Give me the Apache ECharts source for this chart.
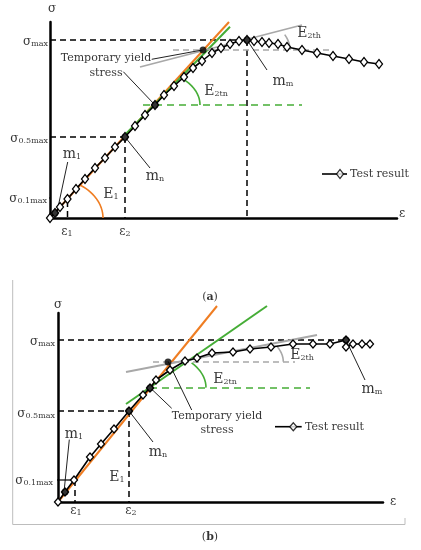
<!DOCTYPE html>
<html><head><meta charset="utf-8">
<script src="https://cdn.jsdelivr.net/npm/echarts@6/dist/echarts.min.js"></script>
<style>html,body{margin:0;padding:0;background:#fff}#c{width:421px;height:550px}</style>
</head><body><div id="c"></div>
<script>
// ---------- Panel (a): test result curve ----------
const strainA = [0,5,10,17.5,26,35,45,55,65,75,85,95,105,114,124,134,143,152,162,171,180,189,197,204,212,219,228,237,252,267,283,299,314,329];
const stressA = [0,5,11,19,29,39,50,60,71,81,92,103,113,123,132,141,150,157,165,170,174,177,178,177,176,175,174,171,168,165,162,159,156,154];
// key points (m1, mn, temporary yield, tangent intersection, mm)
const keyStrainA = [5,75,105,153,197];
const keyStressA = [5,81,113,168,178];
// reference lines (start/end)
const orangeStrainA = [0,179],  orangeStressA = [0,196];
const greenStrainA  = [71.7,180], greenStressA = [79.7,191.3];
const grayStrainA   = [90,252], grayStressA   = [151,193];
const sigmaMaxA = 178, sigmaHalfA = 81, sigmaTenthA = 20;
const eps1A = 17.5, eps2A = 75, epsMaxA = 197;
const tyLevelA = 113, thLevelA = 168;

// ---------- Panel (b): test result curve ----------
const strainB = [0,7,16,32,43,56,71,85,92,98,112,127,139,154,175,192,213,235,255,272,288,288,295,304,312];
const stressB = [0,10,22,45,58,73,91,107,114,122,132,141,144,149,150,153,155,158,158,158,162,155,158,158,158];
const keyStrainB = [7,71,92,110,288];
const keyStressB = [10,91,114,140,162];
const orangeStrainB = [0,159], orangeStressB = [0,196];
const greenStrainB  = [68,209], greenStressB  = [98,196];
const grayStrainB   = [68,259], grayStressB   = [130,167];
const sigmaMaxB = 162, sigmaHalfB = 91, sigmaTenthB = 22;
const eps1B = 17, eps2B = 71;
const tyLevelB = 114, thLevelB = 140;

const FONT = 'DejaVu Serif';
const ORANGE = '#ef7d22', GREEN = '#45ad36', GRAY = '#a8a8a8';

function pts(xs, ys){ return xs.map((x,i)=>[x, ys[i]]); }
function arc(cx, cy, rx, ry, t1deg){
  const out=[]; const n=30;
  for(let i=0;i<=n;i++){ const t=t1deg*Math.PI/180*i/n; out.push([cx+rx*Math.cos(t), cy+ry*Math.sin(t)]); }
  return out;
}
const series = [];
function line(g, data, color, width, type, z){
  series.push({type:'line', xAxisIndex:g, yAxisIndex:g, data, symbol:'none', silent:true, clip:false,
    animation:false, z:z||2, lineStyle:{color, width, type:type||'solid'}});
}
function dashed(g, data){ line(g, data, '#000', 1.5, [6,4], 1); }
const RICH = {
  b:{fontFamily:FONT, fontSize:14, color:'#000', verticalAlign:'bottom', lineHeight:16},
  g:{fontFamily:FONT, fontSize:12, color:'#000', verticalAlign:'bottom', lineHeight:15},
  s:{fontFamily:FONT, fontSize:8, color:'#000', verticalAlign:'bottom', lineHeight:14},
  t:{fontFamily:FONT, fontSize:11, color:'#000'},
  bold:{fontFamily:FONT, fontSize:11, color:'#000', fontWeight:'bold'}
};
function labels(g, items){
  series.push({type:'scatter', xAxisIndex:g, yAxisIndex:g, symbolSize:0, silent:true, clip:false, animation:false, z:10,
    data: items.map(it=>({value:[it[0],it[1]], label:{show:true, formatter:it[2], position:it[3]||'inside', distance:0,
      color:'#000', fontFamily:FONT, fontSize:11, rich:RICH}}))});
}

function panel(g, P){
  P.dashes.forEach(d=>dashed(g, d));
  line(g, pts(P.orangeX, P.orangeY), ORANGE, 2, 'solid', 3);
  line(g, pts(P.greenX, P.greenY), GREEN, 2, 'solid', 3);
  line(g, pts(P.grayX, P.grayY), GRAY, 1.8, 'solid', 3);
  line(g, [[P.thX[0],P.thLevel],[P.thX[1],P.thLevel]], GRAY, 1.3, [6,4], 1);
  line(g, [[P.tyX[0],P.tyLevel],[P.tyX[1],P.tyLevel]], GREEN, 1.6, [7,5], 1);
  P.arcs.forEach(a=>line(g, arc(a[0],a[1],a[2],a[3],a[4]), a[5], 1.6, 'solid', 3));
  P.pointers.forEach(p=>line(g, p, '#222', 1, 'solid', 4));
  line(g, P.tick, '#000', 1.2, 'solid', 4);
  series.push({type:'line', xAxisIndex:g, yAxisIndex:g, data:pts(P.sx, P.sy), symbol:'diamond', symbolSize:P.dsize,
    showAllSymbol:true, silent:true, clip:false, animation:false, z:5,
    lineStyle:{color:'#000', width:1.6}, itemStyle:{color:'#fff', borderColor:'#000', borderWidth:1.3}});
  series.push({type:'scatter', xAxisIndex:g, yAxisIndex:g, data:pts(P.kx, P.ky), symbol:'circle', symbolSize:7,
    silent:true, clip:false, animation:false, z:6, itemStyle:{color:'#000'}});
  line(g, P.legLine, '#000', 1.6, 'solid', 5);
  series.push({type:'scatter', xAxisIndex:g, yAxisIndex:g, data:[P.legDiamond], symbol:'diamond', symbolSize:P.dsize,
    silent:true, clip:false, animation:false, z:6, itemStyle:{color:'#fff', borderColor:'#000', borderWidth:1.3}});
  labels(g, P.labels);
}

const A = {
  sx:strainA, sy:stressA, kx:keyStrainA, ky:keyStressA,
  orangeX:orangeStrainA, orangeY:orangeStressA, greenX:greenStrainA, greenY:greenStressA, grayX:grayStrainA, grayY:grayStressA,
  thLevel:thLevelA, thX:[123,282], tyLevel:tyLevelA, tyX:[93,252],
  dsize:[7,9],
  dashes:[
    [[0,sigmaMaxA],[epsMaxA,sigmaMaxA]], [[epsMaxA,sigmaMaxA],[epsMaxA,0]],
    [[0,sigmaHalfA],[eps2A,sigmaHalfA]], [[eps2A,sigmaHalfA],[eps2A,0]],
    [[eps1A,17],[eps1A,0]]
  ],
  tick:[[-3,sigmaTenthA],[1,sigmaTenthA]],
  arcs:[[0,0,53,40,55,ORANGE],[105,113,45,33,54,GREEN],[153,168,87,45,20,GRAY]],
  pointers:[
    [[101.7,158.7],[152.3,168]], [[73.3,146.3],[105,113]], [[75,81],[100,50]],
    [[197,178],[217,148]], [[17.7,56],[7,6]]
  ],
  legLine:[[272,44],[297,44]], legDiamond:[290,44],
  labels:[
    [2,211,'{g|σ}'], [352,6,'{g|ε}'],
    [-2,178,'{g|σ}{s|max}','left'], [-2,81,'{g|σ}{s|0.5max}','left'], [-3,21,'{g|σ}{s|0.1max}','left'],
    [17,-12,'{g|ε}{s|1}'], [75,-12,'{g|ε}{s|2}'],
    [61,25,'{b|E}{s|1}'], [22,65,'{b|m}{s|1}'], [105,43,'{b|m}{s|n}'],
    [166,128,'{b|E}{s|2tn}'], [259,186,'{b|E}{s|2th}'], [233,138,'{b|m}{s|m}'],
    [56,160,'{t|Temporary yield}'], [56,145,'{t|stress}'],
    [300,44,'{t|Test result}','right'],
    [160,-79,'{t|(}{bold|a}{t|)}']
  ]
};
const B = {
  sx:strainB, sy:stressB, kx:keyStrainB, ky:keyStressB,
  orangeX:orangeStrainB, orangeY:orangeStressB, greenX:greenStrainB, greenY:greenStressB, grayX:grayStrainB, grayY:grayStressB,
  thLevel:thLevelB, thX:[95,237], tyLevel:tyLevelB, tyX:[92,252],
  dsize:[7,8],
  dashes:[
    [[0,sigmaMaxB],[288,sigmaMaxB]],
    [[0,sigmaHalfB],[eps2B,sigmaHalfB]], [[eps2B,sigmaHalfB],[eps2B,0]],
    [[eps1B,sigmaTenthB],[eps1B,0]]
  ],
  tick:[[-4,sigmaTenthB],[eps1B,sigmaTenthB]],
  arcs:[[92,114.4,56,37,42,GREEN],[110.3,140.3,115,47,19.5,GRAY]],
  pointers:[
    [[110.3,140.3],[133.7,92]], [[92,114.4],[113.7,93.7]], [[71,91],[95,60]],
    [[288,162],[307,122]], [[11.3,62.4],[6,10]]
  ],
  legLine:[[217,75.3],[243.7,75.3]], legDiamond:[235.3,75.3],
  labels:[
    [0,199,'{g|σ}'], [335,2,'{g|ε}'],
    [-3,162,'{g|σ}{s|max}','left'], [-3,90,'{g|σ}{s|0.5max}','left'], [-5,23,'{g|σ}{s|0.1max}','left'],
    [18,-7,'{g|ε}{s|1}'], [73,-7,'{g|ε}{s|2}'],
    [59,26,'{b|E}{s|1}'], [16,69,'{b|m}{s|1}'], [100,51,'{b|m}{s|n}'],
    [167,124,'{b|E}{s|2tn}'], [244,148,'{b|E}{s|2th}'], [314,114,'{b|m}{s|m}'],
    [159,86,'{t|Temporary yield}'], [159,72,'{t|stress}'],
    [247,75.3,'{t|Test result}','right'],
    [152,-35,'{t|(}{bold|b}{t|)}']
  ]
};
panel(0, A);
panel(1, B);

function axis(max, extra){ return Object.assign({type:'value', min:0, max, splitLine:{show:false}, axisTick:{show:false},
  axisLabel:{show:false}, axisLine:{show:true, onZero:false, lineStyle:{color:'#000', width:2.5}}}, extra||{}); }

const chart = echarts.init(document.getElementById('c'), null, {renderer:'canvas'});
chart.setOption({
  backgroundColor:'#fff', animation:false,
  grid:[{left:50, top:22, width:347, height:196}, {left:58, top:313, width:325, height:189}],
  xAxis:[axis(347,{gridIndex:0}), axis(325,{gridIndex:1})],
  yAxis:[axis(196,{gridIndex:0}), axis(189,{gridIndex:1})],
  graphic:[{type:'polyline', silent:true, shape:{points:[[12.7,280],[12.7,524.5],[405,524.5],[405,518]]},
    style:{stroke:'#bdbdbd', lineWidth:1, fill:null}}],
  series
});
</script></body></html>
